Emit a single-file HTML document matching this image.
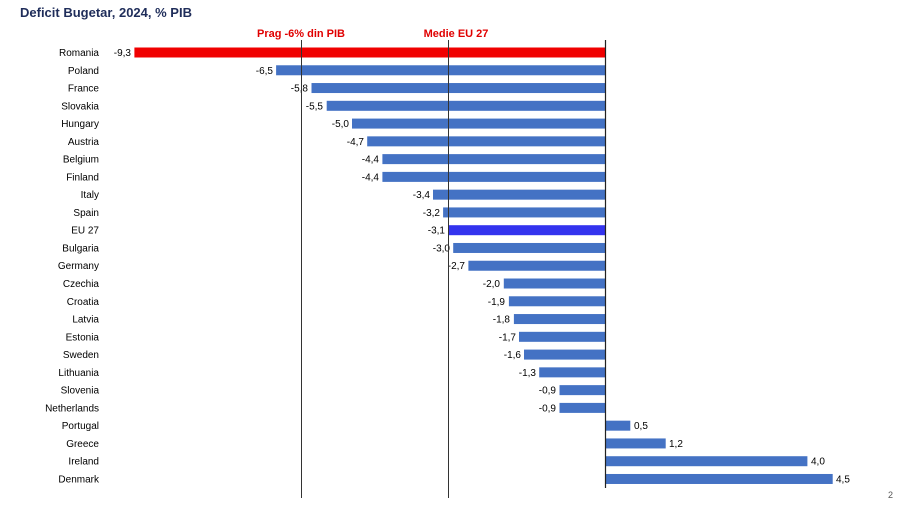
<!DOCTYPE html>
<html><head><meta charset="utf-8"><style>
body{margin:0;background:#fff;}
svg{display:block;font-family:"Liberation Sans",sans-serif;}
</style></head><body>
<svg width="900" height="506" viewBox="0 0 900 506" xmlns="http://www.w3.org/2000/svg">
<text x="20" y="17" font-size="13" font-weight="bold" fill="#1f2d5a">Deficit Bugetar, 2024, % PIB</text>
<text x="301" y="37" font-size="11" font-weight="bold" fill="#e00000" text-anchor="middle">Prag -6% din PIB</text>
<text x="456" y="37" font-size="11" font-weight="bold" fill="#e00000" text-anchor="middle">Medie EU 27</text>
<g font-size="10" fill="#000">
<g transform="translate(0,52.5)"><rect x="134.4" y="-5" width="470.6" height="10" fill="#f00000"/><text x="99" y="3.5" text-anchor="end">Romania</text><text x="131" y="3.5" text-anchor="end">-9,3</text></g>
<g transform="translate(0,70.27)"><rect x="276.1" y="-5" width="328.9" height="10" fill="#4472c4"/><text x="99" y="3.5" text-anchor="end">Poland</text><text x="273" y="3.5" text-anchor="end">-6,5</text></g>
<g transform="translate(0,88.04)"><rect x="311.5" y="-5" width="293.5" height="10" fill="#4472c4"/><text x="99" y="3.5" text-anchor="end">France</text><text x="308" y="3.5" text-anchor="end">-5,8</text></g>
<g transform="translate(0,105.81)"><rect x="326.7" y="-5" width="278.3" height="10" fill="#4472c4"/><text x="99" y="3.5" text-anchor="end">Slovakia</text><text x="323" y="3.5" text-anchor="end">-5,5</text></g>
<g transform="translate(0,123.58)"><rect x="352" y="-5" width="253" height="10" fill="#4472c4"/><text x="99" y="3.5" text-anchor="end">Hungary</text><text x="349" y="3.5" text-anchor="end">-5,0</text></g>
<g transform="translate(0,141.35)"><rect x="367.2" y="-5" width="237.8" height="10" fill="#4472c4"/><text x="99" y="3.5" text-anchor="end">Austria</text><text x="364" y="3.5" text-anchor="end">-4,7</text></g>
<g transform="translate(0,159.12)"><rect x="382.4" y="-5" width="222.6" height="10" fill="#4472c4"/><text x="99" y="3.5" text-anchor="end">Belgium</text><text x="379" y="3.5" text-anchor="end">-4,4</text></g>
<g transform="translate(0,176.89)"><rect x="382.4" y="-5" width="222.6" height="10" fill="#4472c4"/><text x="99" y="3.5" text-anchor="end">Finland</text><text x="379" y="3.5" text-anchor="end">-4,4</text></g>
<g transform="translate(0,194.66)"><rect x="433" y="-5" width="172" height="10" fill="#4472c4"/><text x="99" y="3.5" text-anchor="end">Italy</text><text x="430" y="3.5" text-anchor="end">-3,4</text></g>
<g transform="translate(0,212.43)"><rect x="443.1" y="-5" width="161.9" height="10" fill="#4472c4"/><text x="99" y="3.5" text-anchor="end">Spain</text><text x="440" y="3.5" text-anchor="end">-3,2</text></g>
<g transform="translate(0,230.2)"><rect x="448.1" y="-5" width="156.9" height="10" fill="#3333ee"/><text x="99" y="3.5" text-anchor="end">EU 27</text><text x="445" y="3.5" text-anchor="end">-3,1</text></g>
<g transform="translate(0,247.97)"><rect x="453.2" y="-5" width="151.8" height="10" fill="#4472c4"/><text x="99" y="3.5" text-anchor="end">Bulgaria</text><text x="450" y="3.5" text-anchor="end">-3,0</text></g>
<g transform="translate(0,265.74)"><rect x="468.4" y="-5" width="136.6" height="10" fill="#4472c4"/><text x="99" y="3.5" text-anchor="end">Germany</text><text x="465" y="3.5" text-anchor="end">-2,7</text></g>
<g transform="translate(0,283.51)"><rect x="503.8" y="-5" width="101.2" height="10" fill="#4472c4"/><text x="99" y="3.5" text-anchor="end">Czechia</text><text x="500" y="3.5" text-anchor="end">-2,0</text></g>
<g transform="translate(0,301.28)"><rect x="508.9" y="-5" width="96.1" height="10" fill="#4472c4"/><text x="99" y="3.5" text-anchor="end">Croatia</text><text x="505" y="3.5" text-anchor="end">-1,9</text></g>
<g transform="translate(0,319.05)"><rect x="513.9" y="-5" width="91.1" height="10" fill="#4472c4"/><text x="99" y="3.5" text-anchor="end">Latvia</text><text x="510" y="3.5" text-anchor="end">-1,8</text></g>
<g transform="translate(0,336.82)"><rect x="519" y="-5" width="86" height="10" fill="#4472c4"/><text x="99" y="3.5" text-anchor="end">Estonia</text><text x="516" y="3.5" text-anchor="end">-1,7</text></g>
<g transform="translate(0,354.59)"><rect x="524" y="-5" width="81" height="10" fill="#4472c4"/><text x="99" y="3.5" text-anchor="end">Sweden</text><text x="521" y="3.5" text-anchor="end">-1,6</text></g>
<g transform="translate(0,372.36)"><rect x="539.2" y="-5" width="65.8" height="10" fill="#4472c4"/><text x="99" y="3.5" text-anchor="end">Lithuania</text><text x="536" y="3.5" text-anchor="end">-1,3</text></g>
<g transform="translate(0,390.13)"><rect x="559.5" y="-5" width="45.5" height="10" fill="#4472c4"/><text x="99" y="3.5" text-anchor="end">Slovenia</text><text x="556" y="3.5" text-anchor="end">-0,9</text></g>
<g transform="translate(0,407.9)"><rect x="559.5" y="-5" width="45.5" height="10" fill="#4472c4"/><text x="99" y="3.5" text-anchor="end">Netherlands</text><text x="556" y="3.5" text-anchor="end">-0,9</text></g>
<g transform="translate(0,425.67)"><rect x="605" y="-5" width="25.3" height="10" fill="#4472c4"/><text x="99" y="3.5" text-anchor="end">Portugal</text><text x="634" y="3.5">0,5</text></g>
<g transform="translate(0,443.44)"><rect x="605" y="-5" width="60.7" height="10" fill="#4472c4"/><text x="99" y="3.5" text-anchor="end">Greece</text><text x="669" y="3.5">1,2</text></g>
<g transform="translate(0,461.21)"><rect x="605" y="-5" width="202.4" height="10" fill="#4472c4"/><text x="99" y="3.5" text-anchor="end">Ireland</text><text x="811" y="3.5">4,0</text></g>
<g transform="translate(0,478.98)"><rect x="605" y="-5" width="227.7" height="10" fill="#4472c4"/><text x="99" y="3.5" text-anchor="end">Denmark</text><text x="836" y="3.5">4,5</text></g>
</g>
<line x1="301.5" y1="40" x2="301.5" y2="498" stroke="#333" stroke-width="1"/>
<line x1="448.5" y1="40" x2="448.5" y2="498" stroke="#333" stroke-width="1"/>
<line x1="605.5" y1="40" x2="605.5" y2="488" stroke="#222" stroke-width="1.2"/>
<text x="888" y="498" font-size="9" fill="#555">2</text>
</svg>
</body></html>
